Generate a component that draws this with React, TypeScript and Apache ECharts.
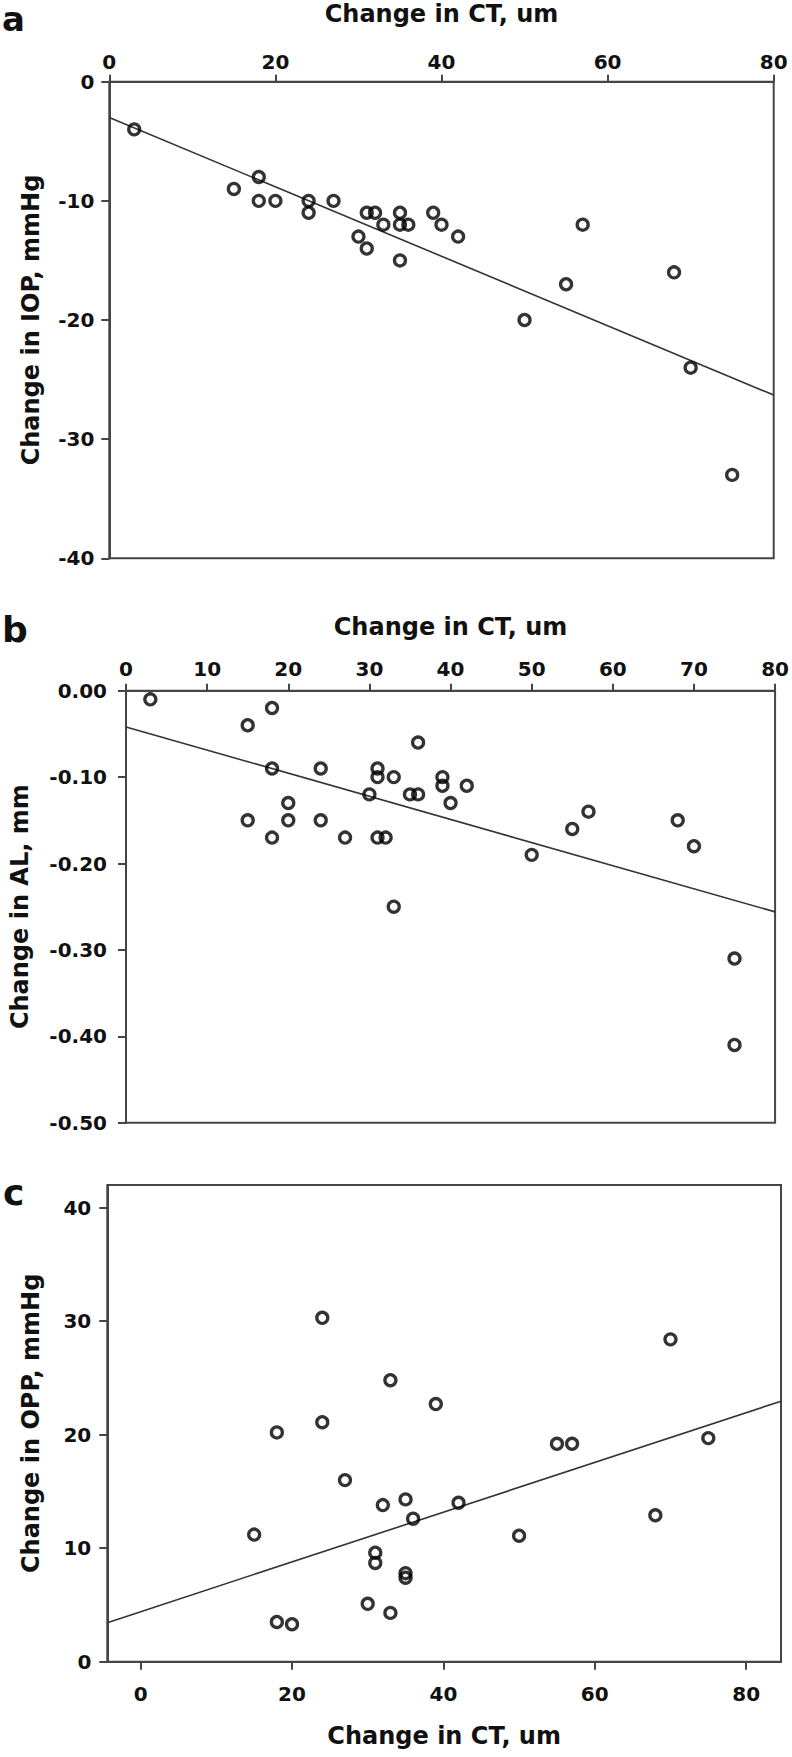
import React, { useEffect, useRef } from "react";
import * as echarts from "echarts";

// ---- Panel a: Change in CT vs Change in IOP ----
const iopCT = [3, 15, 18, 18, 20, 24, 24, 27, 31, 32, 33, 30, 31, 35, 35, 36, 35, 39, 40, 42, 57, 55, 68, 50, 70, 75];
const iopChange = [-4, -9, -8, -10, -10, -10, -11, -10, -11, -11, -12, -13, -14, -11, -12, -12, -15, -11, -12, -13, -12, -17, -16, -20, -24, -33];
const iopFitX = [0, 80];
const iopFitY = [-3.0, -26.3];

// ---- Panel b: Change in CT vs Change in AL ----
const alCT = [3, 18, 15, 36, 18, 24, 31, 31, 33, 39, 39, 42, 30, 35, 36, 20, 40, 15, 20, 24, 57, 55, 68, 18, 27, 31, 32, 50, 70, 33, 75, 75];
const alChange = [-0.01, -0.02, -0.04, -0.06, -0.09, -0.09, -0.09, -0.1, -0.1, -0.1, -0.11, -0.11, -0.12, -0.12, -0.12, -0.13, -0.13, -0.15, -0.15, -0.15, -0.14, -0.16, -0.15, -0.17, -0.17, -0.17, -0.17, -0.19, -0.18, -0.25, -0.31, -0.41];
const alFitX = [0, 80];
const alFitY = [-0.042, -0.256];

// ---- Panel c: Change in CT vs Change in OPP ----
const oppCT = [15, 18, 24, 39, 27, 32, 35, 36, 42, 31, 31, 35, 35, 30, 33, 18, 20, 50, 55, 57, 75, 68, 24, 70, 33];
const oppChange = [11.2, 20.2, 21.1, 22.7, 16.0, 13.8, 14.3, 12.6, 14.0, 9.6, 8.7, 7.8, 7.4, 5.1, 4.3, 3.5, 3.3, 11.1, 19.2, 19.2, 19.7, 12.9, 30.3, 28.4, 24.8];
const oppFitX = [-4.4, 84.6];
const oppFitY = [3.44, 22.95];

// tick labels
const ctTicksA = [0, 20, 40, 60, 80];
const ctTicksC = [0, 20, 40, 60, 80];
const oppTicks = [0, 10, 20, 30, 40];

const panelLetters = ["a", "b", "c"];
const xTitle = "Change in CT, um";
const yTitles = ["Change in IOP, mmHg", "Change in AL, mm", "Change in OPP, mmHg"];

const zip = (xs: number[], ys: number[]) => xs.map((x, i) => [x, ys[i]]);

const FONT = "DejaVu Sans";
const AXIS_COLOR = "#454545";
const TEXT_COLOR = "#111";

const labelStyle = (margin: number) => ({
  fontFamily: FONT,
  fontWeight: "bold" as const,
  fontSize: 20,
  color: TEXT_COLOR,
  margin,
});
const nameStyle = {
  fontFamily: FONT,
  fontWeight: "bold" as const,
  fontSize: 24,
  color: TEXT_COLOR,
};
const axisLine = { show: true, onZero: false, lineStyle: { color: AXIS_COLOR, width: 2 } };
const tick = (len: number) => ({ show: true, length: len, lineStyle: { color: AXIS_COLOR, width: 2 } });

export default function App() {
  const ref = useRef<HTMLDivElement>(null);
  useEffect(() => {
    if (!ref.current) return;
    const chart = echarts.init(ref.current, undefined, { renderer: "svg" });
    const gridBase = { show: true, borderColor: AXIS_COLOR, borderWidth: 2, backgroundColor: "transparent", containLabel: false };
    const scatterStyle = {
      type: "scatter" as const,
      symbol: "circle",
      symbolSize: 11,
      itemStyle: { color: "rgba(255,255,255,0)", borderColor: "#000", borderWidth: 3.3 },
      z: 3,
    };
    const fitStyle = {
      type: "line" as const,
      symbol: "none",
      showSymbol: false,
      lineStyle: { color: "#333", width: 1.6 },
      z: 2,
    };
    chart.setOption({
      animation: false,
      backgroundColor: "#fff",
      grid: [
        { ...gridBase, left: 109.3, top: 81.7, width: 664.4, height: 476.6 },
        { ...gridBase, left: 123.3, top: 690.7, width: 652.7, height: 432 },
        { ...gridBase, left: 107.3, top: 1185, width: 673.7, height: 476.7 },
      ],
      xAxis: [
        {
          gridIndex: 0, type: "value", position: "top", min: 0, max: 80, interval: 20,
          axisLine, axisTick: tick(7), splitLine: { show: false },
          axisLabel: { ...labelStyle(10), customValues: ctTicksA },
          name: xTitle, nameLocation: "middle", nameGap: 56, nameTextStyle: nameStyle,
        },
        {
          gridIndex: 1, type: "value", position: "top", min: 0, max: 80, interval: 10,
          axisLine, axisTick: tick(7), splitLine: { show: false },
          axisLabel: labelStyle(12),
          name: xTitle, nameLocation: "middle", nameGap: 52, nameTextStyle: nameStyle,
        },
        {
          gridIndex: 2, type: "value", position: "bottom", min: -4.4, max: 84.6,
          axisLine, axisTick: { ...tick(8), customValues: ctTicksC }, splitLine: { show: false },
          axisLabel: { ...labelStyle(22), customValues: ctTicksC },
          name: xTitle, nameLocation: "middle", nameGap: 62, nameTextStyle: nameStyle,
        },
      ],
      yAxis: [
        {
          gridIndex: 0, type: "value", min: -40, max: 0, interval: 10,
          axisLine, axisTick: tick(8), splitLine: { show: false },
          axisLabel: labelStyle(15),
          name: yTitles[0], nameLocation: "middle", nameGap: 66, nameTextStyle: nameStyle,
        },
        {
          gridIndex: 1, type: "value", min: -0.5, max: 0, interval: 0.1,
          axisLine, axisTick: tick(8), splitLine: { show: false },
          axisLabel: { ...labelStyle(19), formatter: (v: number) => (Math.abs(v) < 1e-9 ? "0.00" : v.toFixed(2)) },
          name: yTitles[1], nameLocation: "middle", nameGap: 94, nameTextStyle: nameStyle,
        },
        {
          gridIndex: 2, type: "value", min: 0, max: 42,
          axisLine, axisTick: { ...tick(8), customValues: oppTicks }, splitLine: { show: false },
          axisLabel: { ...labelStyle(16), customValues: oppTicks },
          name: yTitles[2], nameLocation: "middle", nameGap: 64, nameTextStyle: nameStyle,
        },
      ],
      series: [
        { ...fitStyle, xAxisIndex: 0, yAxisIndex: 0, data: zip(iopFitX, iopFitY) },
        { ...scatterStyle, xAxisIndex: 0, yAxisIndex: 0, data: zip(iopCT, iopChange) },
        { ...fitStyle, xAxisIndex: 1, yAxisIndex: 1, data: zip(alFitX, alFitY) },
        { ...scatterStyle, xAxisIndex: 1, yAxisIndex: 1, data: zip(alCT, alChange) },
        { ...fitStyle, xAxisIndex: 2, yAxisIndex: 2, data: zip(oppFitX, oppFitY) },
        { ...scatterStyle, xAxisIndex: 2, yAxisIndex: 2, data: zip(oppCT, oppChange) },
      ],
      graphic: [
        { type: "text", left: 2, top: 2, style: { text: panelLetters[0], font: `bold 34px "${FONT}"`, fill: TEXT_COLOR } },
        { type: "text", left: 2, top: 611, style: { text: panelLetters[1], font: `bold 36px "${FONT}"`, fill: TEXT_COLOR } },
        { type: "text", left: 3, top: 1174, style: { text: panelLetters[2], font: `bold 36px "${FONT}"`, fill: TEXT_COLOR } },
      ],
    });
    return () => chart.dispose();
  }, []);
  return (
    <div
      ref={ref}
      style={{ position: "absolute", left: 0, top: 0, width: 792, height: 1757, background: "#fff" }}
    />
  );
}
